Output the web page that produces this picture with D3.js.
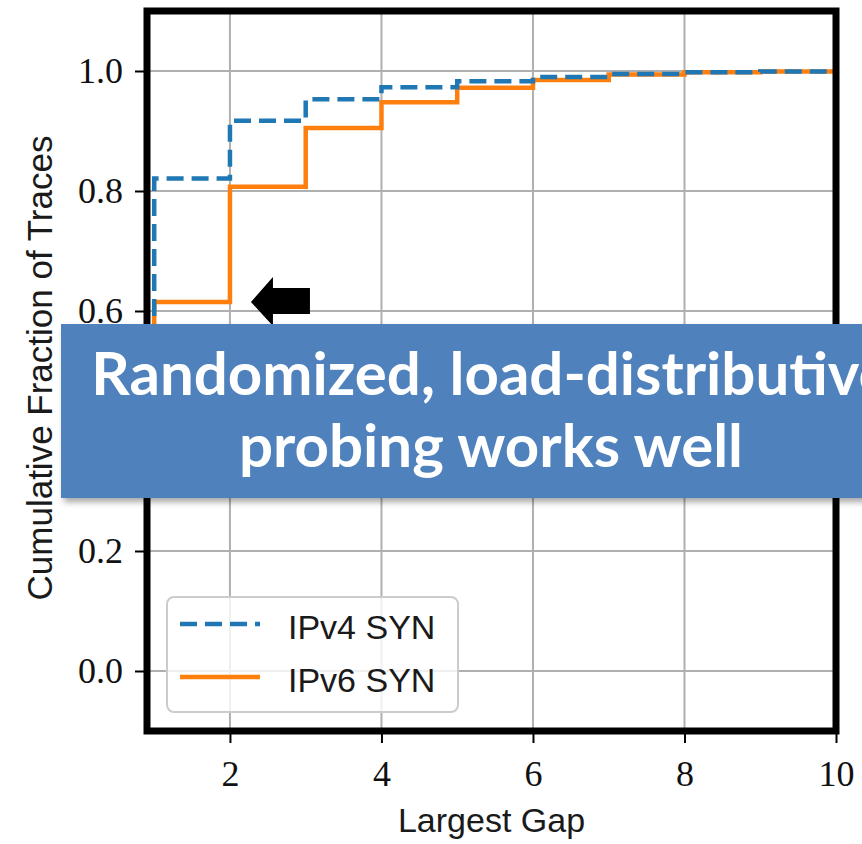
<!DOCTYPE html>
<html>
<head>
<meta charset="utf-8">
<script src="https://cdn.jsdelivr.net/npm/d3@7"></script>
<style>
  html, body { margin: 0; padding: 0; background: #fff; }
  svg { display: block; }
</style>
</head>
<body>
<svg id="chart" width="862" height="844"></svg>
<script>
// ---- data ----
const gaps = [1, 2, 3, 4, 5, 6, 7, 8, 9, 10];
const ipv4Values = [0.821, 0.917, 0.953, 0.973, 0.983, 0.990, 0.995, 0.998, 0.999, 1.0];
const ipv6Values = [0.615, 0.807, 0.905, 0.948, 0.972, 0.985, 0.994, 0.998, 0.999, 1.0];
const ipv4Start = 0.55;   // value below the callout box (hidden)
const ipv6Start = 0.45;
const xTicks = [2, 4, 6, 8, 10];
const yTicks = [0.0, 0.2, 0.4, 0.6, 0.8, 1.0];
const seriesNames = ["IPv4 SYN", "IPv6 SYN"];
const xLabel = "Largest Gap";
const yLabel = "Cumulative Fraction of Traces";
const calloutLines = ["Randomized, load-distributive", "probing works well"];

// ---- layout ----
const svg = d3.select("#chart");
const L = 147, R = 836, T = 11, B = 731;
const x = d3.scaleLinear().domain([0.905, 10]).range([L, R]);
const y = d3.scaleLinear().domain([-0.1, 1.1]).range([B, T]);

const defs = svg.append("defs");
defs.append("clipPath").attr("id", "plotclip")
  .append("rect").attr("x", L).attr("y", T).attr("width", R - L).attr("height", B - T);
const shadow = defs.append("filter").attr("id", "shadow")
  .attr("x", "-10%").attr("y", "-10%").attr("width", "130%").attr("height", "140%");
shadow.append("feDropShadow").attr("dx", 3).attr("dy", 4).attr("stdDeviation", 3)
  .attr("flood-color", "#000").attr("flood-opacity", 0.35);

// grid
const grid = svg.append("g");
grid.selectAll("line.gx").data(xTicks).join("line")
  .attr("x1", d => x(d)).attr("x2", d => x(d)).attr("y1", T).attr("y2", B)
  .attr("stroke", "#b0b0b0").attr("stroke-width", 2);
grid.selectAll("line.gy").data(yTicks).join("line")
  .attr("x1", L).attr("x2", R).attr("y1", d => y(d)).attr("y2", d => y(d))
  .attr("stroke", "#b0b0b0").attr("stroke-width", 2);

// axes
const serif = "'Liberation Serif', 'DejaVu Serif', serif";
const yAxis = svg.append("g").attr("transform", `translate(${L},0)`)
  .call(d3.axisLeft(y).tickValues(yTicks).tickFormat(d3.format(".1f")).tickSize(12).tickPadding(12));
const xAxis = svg.append("g").attr("transform", `translate(0,${B})`)
  .call(d3.axisBottom(x).tickValues(xTicks).tickFormat(d3.format("d")).tickSize(12).tickPadding(17));
[yAxis, xAxis].forEach(a => {
  a.select(".domain").remove();
  a.selectAll(".tick line").attr("stroke", "#000").attr("stroke-width", 2);
  a.selectAll(".tick text").attr("font-family", serif).attr("font-size", 36).attr("fill", "#111");
});

// lines
const line = d3.line().x(d => x(d[0])).y(d => y(d[1])).curve(d3.curveStepAfter);
const ipv4Pts = [[gaps[0], ipv4Start]].concat(gaps.map((g, i) => [g, ipv4Values[i]]));
const ipv6Pts = [[gaps[0], ipv6Start]].concat(gaps.map((g, i) => [g, ipv6Values[i]]));
const lines = svg.append("g").attr("clip-path", "url(#plotclip)");
lines.append("path").datum(ipv6Pts).attr("d", line)
  .attr("fill", "none").attr("stroke", "#ff7f0e").attr("stroke-width", 4.5);
lines.append("path").datum(ipv4Pts).attr("d", line)
  .attr("fill", "none").attr("stroke", "#1f77b4").attr("stroke-width", 4.5)
  .attr("stroke-dasharray", "17,8");

// legend
const sans = "'Liberation Sans', 'DejaVu Sans', sans-serif";
const lg = svg.append("g");
lg.append("rect").attr("x", 167).attr("y", 597).attr("width", 291).attr("height", 115)
  .attr("rx", 7).attr("fill", "#fff").attr("fill-opacity", 0.8)
  .attr("stroke", "#cccccc").attr("stroke-width", 2);
const legItems = [
  { name: seriesNames[0], color: "#1f77b4", dash: "17,8", yy: 624 },
  { name: seriesNames[1], color: "#ff7f0e", dash: null, yy: 677 }
];
legItems.forEach(it => {
  lg.append("line").attr("x1", 180).attr("x2", 260).attr("y1", it.yy).attr("y2", it.yy)
    .attr("stroke", it.color).attr("stroke-width", 4.5)
    .attr("stroke-dasharray", it.dash);
  lg.append("text").attr("x", 288).attr("y", it.yy + 15).text(it.name)
    .attr("font-family", sans).attr("font-size", 34).attr("fill", "#1a1a1a");
});

// frame
svg.append("rect").attr("x", L).attr("y", T).attr("width", R - L).attr("height", B - T)
  .attr("fill", "none").attr("stroke", "#000").attr("stroke-width", 7);

// axis labels
svg.append("text").attr("x", (L + R) / 2).attr("y", 832).attr("text-anchor", "middle")
  .attr("font-family", sans).attr("font-size", 34).attr("fill", "#1a1a1a").text(xLabel);
svg.append("text").attr("transform", "translate(52,368) rotate(-90)").attr("text-anchor", "middle")
  .attr("font-family", sans).attr("font-size", 35).attr("fill", "#1a1a1a").text(yLabel);

// arrow annotation (pointing at the IPv6 step at gap 2)
const ax = x(gaps[1]) + 21, ay = y(ipv6Values[0]);
svg.append("path")
  .attr("d", `M${ax},${ay} L${ax + 22},${ay - 25} L${ax + 22},${ay - 14} L${ax + 59},${ay - 14} L${ax + 59},${ay + 12} L${ax + 22},${ay + 12} L${ax + 22},${ay + 24} Z`)
  .attr("fill", "#000");

// callout box
const bx = 61, by = 324, bw = 860, bh = 174;
svg.append("rect").attr("x", bx).attr("y", by).attr("width", bw).attr("height", bh)
  .attr("fill", "#4f81bd").attr("filter", "url(#shadow)");
svg.append("g").selectAll("text").data(calloutLines).join("text")
  .attr("x", bx + bw / 2).attr("y", (d, i) => 395 + i * 72)
  .attr("text-anchor", "middle")
  .attr("font-family", "Lato, 'Open Sans', sans-serif").attr("font-weight", "bold")
  .attr("font-size", 60).attr("fill", "#fff").text(d => d);
</script>
</body>
</html>
